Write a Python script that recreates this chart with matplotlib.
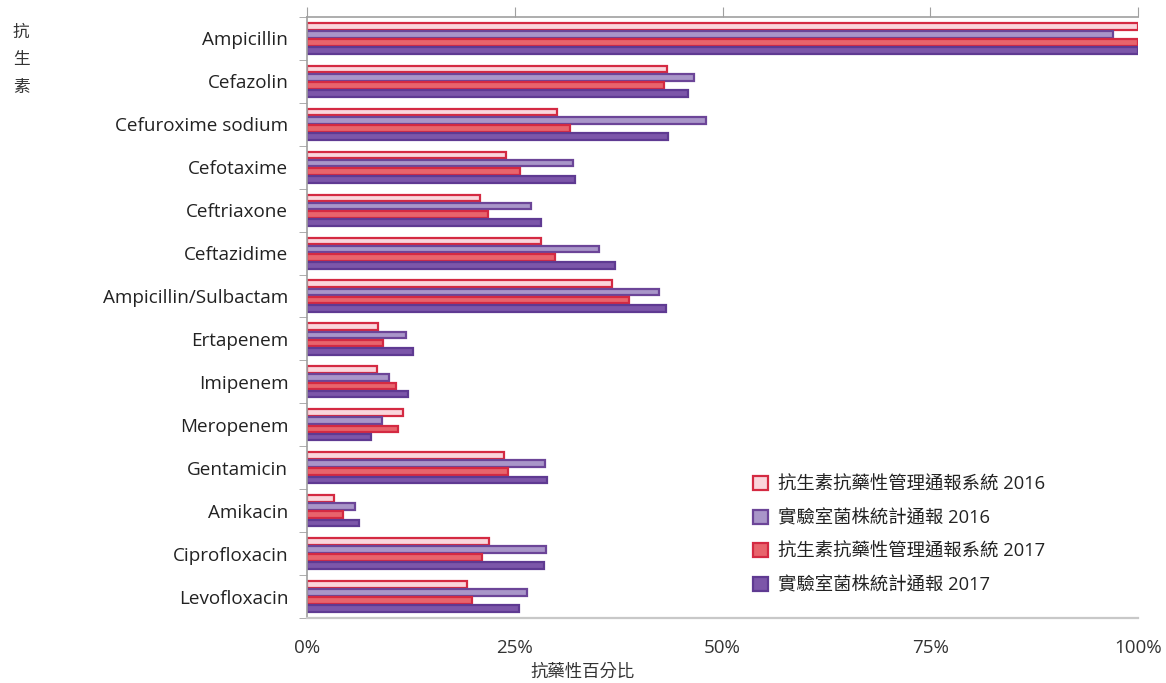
import numpy as np
import matplotlib
matplotlib.use("Agg")
import matplotlib.pyplot as plt
from matplotlib.ticker import FixedLocator, PercentFormatter

plt.rcParams['font.family'] = ['Open Sans', 'Noto Sans CJK TC', 'DejaVu Sans']

drugs = ['Ampicillin', 'Cefazolin', 'Cefuroxime sodium', 'Cefotaxime', 'Ceftriaxone',
         'Ceftazidime', 'Ampicillin/Sulbactam', 'Ertapenem', 'Imipenem', 'Meropenem',
         'Gentamicin', 'Amikacin', 'Ciprofloxacin', 'Levofloxacin']

mgmt_2016 = [100, 43.3, 30.1, 23.9, 20.8, 28.2, 36.7, 8.5, 8.4, 11.6, 23.7, 3.2, 21.9, 19.2]
lab_2016 = [97.0, 46.6, 48.0, 32.0, 27.0, 35.1, 42.4, 11.9, 9.9, 9.0, 28.6, 5.8, 28.8, 26.5]
mgmt_2017 = [100, 42.9, 31.6, 25.6, 21.8, 29.8, 38.7, 9.1, 10.7, 11.0, 24.2, 4.3, 21.0, 19.8]
lab_2017 = [100, 45.8, 43.4, 32.3, 28.2, 37.1, 43.2, 12.8, 12.1, 7.7, 28.9, 6.3, 28.5, 25.5]

series_names = ['抗生素抗藥性管理通報系統 2016', '實驗室菌株統計通報 2016',
                '抗生素抗藥性管理通報系統 2017', '實驗室菌株統計通報 2017']
fills = ['#fad6dc', '#a996c9', '#e8646c', '#7c56a9']
edges = ['#d42a42', '#6c4598', '#d42a42', '#5f3a92']

fig = plt.figure(figsize=(11.66, 6.83), dpi=100)
ax = fig.add_axes([0.2633, 0.0952, 0.7127, 0.8799])

y = np.arange(len(drugs))
step = 0.19
offsets = (np.arange(4) - 1.5) * step
for vals, off, fc, ec, name in zip([mgmt_2016, lab_2016, mgmt_2017, lab_2017],
                                   offsets, fills, edges, series_names):
    ax.barh(y + off, vals, height=0.155, color=fc, edgecolor=ec, linewidth=1.6, label=name)

ax.set_xlim(0, 100)
ax.set_ylim(len(drugs) - 0.5, -0.5)
ax.xaxis.set_major_locator(FixedLocator([0, 25, 50, 75, 100]))
ax.xaxis.set_major_formatter(PercentFormatter(decimals=0))
ax.tick_params(axis='x', top=True, bottom=False, labeltop=False, labelbottom=True,
               direction='out', length=7, color='#a0a0a0', labelsize=13.5, pad=8,
               labelcolor='#333333')

ax.set_yticks(y)
ax.set_yticklabels(drugs)
ax.yaxis.set_minor_locator(FixedLocator(np.arange(-0.5, len(drugs), 1)))
ax.tick_params(axis='y', which='major', length=0, labelsize=13.6, pad=13.5, labelcolor='#222222')
ax.tick_params(axis='y', which='minor', length=6, color='#a0a0a0')

for side in ['top', 'left']:
    ax.spines[side].set_color('#a0a0a0')
    ax.spines[side].set_linewidth(1.2)
ax.spines['bottom'].set_color('#c8c8c8')
ax.spines['bottom'].set_linewidth(1.6)
ax.spines['right'].set_visible(False)

fig.text(0.011, 0.912, '抗\n生\n素', fontsize=12, color='#333333', linespacing=1.98,
         ha='left', va='center')
fig.text(0.50, 0.0146, '抗藥性百分比', fontsize=12.5, color='#333333', ha='center', va='center')

ax.legend(loc='lower left', bbox_to_anchor=(0.517, 0.012), frameon=False, fontsize=13.2,
          handlelength=0.8, handleheight=0.8, handletextpad=0.55, labelspacing=0.85,
          labelcolor='#222222')

fig.savefig('out.png', dpi=100)
